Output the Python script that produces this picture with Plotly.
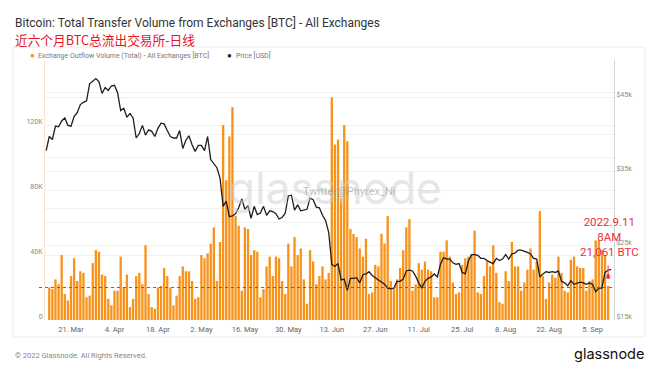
import plotly.graph_objects as go
import pandas as pd

# ---------------- data ----------------
bar_start, bar_end = "2022-03-14", "2022-09-10"
outflow_k = [
    20, 19, 25, 22, 40, 16, 12, 27, 38, 24,
    30, 29, 14, 15, 35, 43, 42, 28, 27, 13,
    9, 18, 18, 39, 20, 28, 8, 13, 27, 29,
    22, 46, 16, 8, 7, 20, 21, 32, 27, 20,
    9, 15, 27, 33, 30, 30, 24, 13, 14, 40,
    38, 41, 47, 57, 24, 48, 120, 86, 113, 131,
    64, 58, 18, 57, 56, 40, 43, 42, 14, 19,
    33, 39, 27, 39, 38, 24, 16, 47, 33, 51,
    40, 44, 25, 10, 43, 36, 22, 27, 33, 25,
    29, 137, 108, 111, 75, 120, 110, 56, 53, 51,
    44, 39, 50, 16, 17, 34, 33, 53, 47, 64,
    24, 20, 25, 32, 43, 57, 62, 18, 22, 35,
    31, 36, 31, 30, 14, 14, 42, 42, 49, 39,
    23, 16, 17, 34, 38, 39, 40, 55, 17, 16,
    27, 36, 33, 46, 29, 11, 10, 30, 24, 48,
    33, 33, 18, 23, 31, 44, 31, 36, 67, 27,
    13, 23, 28, 26, 39, 29, 18, 17, 37, 39,
    33, 32, 32, 18, 24, 25, 49, 49, 43, 40, 21,
]

price_start, price_end = "2022-03-13", "2022-09-11"
price_k = [
    # Mar 13-31
    37.8, 39.7, 39.3, 41.1, 41.0, 41.8, 42.2, 41.2, 41.1, 42.4, 42.9, 44.0, 44.3, 44.5, 46.8, 47.1, 47.5, 47.1, 45.5,
    # Apr
    46.3, 45.9, 46.5, 46.6, 45.6, 43.2, 43.5, 42.3, 42.8, 42.2, 39.5, 40.1, 41.2, 39.9, 40.6, 40.4, 39.7, 40.8, 41.5, 41.4,
    40.5, 39.7, 39.5, 39.5, 40.5, 38.1, 39.2, 39.8, 38.6, 37.7,
    # May
    38.5, 38.5, 37.8, 39.7, 36.6, 36.0, 35.5, 34.1, 30.3, 31.0, 28.9, 29.0, 29.3, 30.1, 31.3, 29.9, 30.4, 28.7, 30.3, 29.2,
    29.4, 30.3, 29.1, 29.7, 29.6, 29.3, 28.6, 28.8, 29.4, 31.7, 31.8,
    # Jun
    29.8, 30.5, 29.7, 29.8, 29.9, 31.4, 31.2, 30.2, 30.1, 29.1, 28.4, 26.8, 22.5, 22.2, 22.6, 20.4, 20.5, 19.0, 20.6, 20.6,
    20.7, 20.0, 21.1, 21.2, 21.5, 21.0, 20.7, 20.3, 20.1, 19.8,
    # Jul
    19.3, 19.2, 19.3, 20.2, 20.2, 20.5, 21.6, 21.7, 21.6, 20.9, 20.0, 19.3, 20.2, 20.6, 20.8, 21.2, 20.8, 22.5, 23.4, 23.2,
    23.2, 22.7, 22.5, 22.6, 21.4, 21.2, 22.9, 23.8, 23.8, 23.7, 23.3,
    # Aug
    23.3, 23.0, 22.8, 22.6, 23.3, 23.0, 23.2, 23.8, 23.2, 23.9, 24.0, 24.4, 24.4, 24.3, 24.1, 23.9, 23.3, 23.2, 20.8, 21.2,
    21.5, 21.4, 21.5, 21.4, 21.6, 20.2, 20.0, 19.6, 20.3, 19.8, 20.0,
    # Sep 1-11
    20.1, 20.0, 19.8, 20.0, 19.8, 18.8, 19.3, 19.3, 21.4, 21.7, 21.8,
]

x_tick_dates = ["2022-03-21", "2022-04-04", "2022-04-18", "2022-05-02", "2022-05-16", "2022-05-30",
                "2022-06-13", "2022-06-27", "2022-07-11", "2022-07-25", "2022-08-08", "2022-08-22", "2022-09-05"]
x_tick_labels = ["21. Mar", "4. Apr", "18. Apr", "2. May", "16. May", "30. May",
                 "13. Jun", "27. Jun", "11. Jul", "25. Jul", "8. Aug", "22. Aug", "5. Sep"]
left_ticks = [0, 40000, 80000, 120000]
left_labels = ["0", "40K", "80K", "120K"]
right_ticks = [15000, 25000, 35000, 45000]
right_labels = ["$15k", "$25k", "$35k", "$45k"]

marker_level = 20000      # dashed reference line (BTC)
point_value = 26500       # red dot
annot_date = "2022-09-10"

# ---------------- figure ----------------
bar_dates = pd.date_range(bar_start, bar_end, freq="D")
price_dates = pd.date_range(price_start, price_end, freq="D")
outflow = [v * 1000 for v in outflow_k]
price = [v * 1000 for v in price_k]

ORANGE = "#f7931a"
RED = "#e8323c"
FONT = "Roboto, 'Noto Sans', sans-serif"

fig = go.Figure()
fig.add_trace(go.Bar(x=bar_dates, y=outflow, marker=dict(color=ORANGE, line=dict(width=0)),
                     showlegend=False, yaxis="y"))
fig.add_trace(go.Scatter(x=price_dates, y=price, mode="lines", line=dict(color="#1e1e1e", width=1.3),
                         showlegend=False, yaxis="y2"))
fig.add_trace(go.Scatter(x=[annot_date], y=[point_value], mode="markers",
                         marker=dict(color=RED, size=4), showlegend=False, yaxis="y"))

# page body has an 8px margin: figure is 652x364 placed at (8, 8)
W, H = 652, 364
L, R, T, B = 37, 46, 52, 52
PL, PB, PW, PH = 45, 320, 569, 260   # plot area in reference-pixel coordinates


def px(xp):
    return (xp - PL) / PW


def py(yp):
    return (PB - yp) / PH


grid = "#f1f1f1"
fig.update_layout(
    width=W, height=H,
    margin=dict(l=L, r=R, t=T, b=B),
    paper_bgcolor="white", plot_bgcolor="white",
    bargap=0.25,
    font=dict(family=FONT, color="#888", size=7),
    xaxis=dict(type="date", range=["2022-03-12 15:00", "2022-09-11 21:30"],
               tickvals=x_tick_dates, ticktext=x_tick_labels, showgrid=False,
               tickfont=dict(size=7.5, color="#666"), ticks="", showline=False, zeroline=False,
               ticklabelstandoff=3),
    yaxis=dict(range=[0, 160000], tickvals=left_ticks, ticktext=left_labels,
               showgrid=True, gridcolor=grid, zeroline=False, showline=True,
               linecolor="#fce3cf", linewidth=1, ticks="", ticklabelshift=-3,
               tickfont=dict(size=7, color="#888"),
               minor=dict(tickvals=[20000, 60000, 100000, 140000, 160000], showgrid=True, gridcolor=grid)),
    yaxis2=dict(range=[15000, 50000], overlaying="y", side="right", tickvals=right_ticks,
                ticktext=right_labels, showgrid=True, gridcolor=grid, zeroline=False,
                showline=True, linecolor="#d6d6d6", linewidth=1, ticks="", ticklabelshift=-3,
                tickfont=dict(size=7, color="#888"),
                minor=dict(tickvals=[20000, 30000, 40000, 50000], showgrid=True, gridcolor=grid)),
)

shapes = [
    # card border
    dict(type="rect", xref="paper", yref="paper", x0=px(13), x1=px(645), y0=py(337), y1=py(47),
         line=dict(color="#ececec", width=1), layer="below"),
    # dashed reference line
    dict(type="line", xref="paper", yref="y", x0=px(39), x1=px(613), y0=marker_level, y1=marker_level,
         line=dict(color=RED, width=1, dash="3px,3px"), layer="above"),
]
fig.update_layout(shapes=shapes)

ann = []
# title
ann.append(dict(text="Bitcoin: Total Transfer Volume from Exchanges [BTC] - All Exchanges",
                x=px(13), y=py(23), xref="paper", yref="paper", xanchor="left", yanchor="middle",
                showarrow=False, font=dict(family=FONT, size=12, color="#333")))
ann.append(dict(text="近六个月BTC总流出交易所-日线",
                x=px(13), y=py(39), xref="paper", yref="paper", xanchor="left", yanchor="middle",
                showarrow=False, font=dict(family="'Noto Sans CJK SC', sans-serif", size=12.7, color="#e8141e")))
# legend
ann.append(dict(text="●", x=px(32), y=py(55), xref="paper", yref="paper", xanchor="center", yanchor="middle",
                showarrow=False, font=dict(size=8, color=ORANGE)))
ann.append(dict(text="Exchange Outflow Volume (Total) - All Exchanges [BTC]", x=px(36), y=py(55),
                xref="paper", yref="paper", xanchor="left", yanchor="middle", showarrow=False,
                font=dict(family=FONT, size=7, color="#777")))
ann.append(dict(text="●", x=px(229.5), y=py(55), xref="paper", yref="paper", xanchor="center", yanchor="middle",
                showarrow=False, font=dict(size=8, color="#1e1e1e")))
ann.append(dict(text="Price [USD]", x=px(234), y=py(55),
                xref="paper", yref="paper", xanchor="left", yanchor="middle", showarrow=False,
                font=dict(family=FONT, size=7, color="#777")))
# watermarks
ann.append(dict(text="glassnode", x=px(335), y=py(188), xref="paper", yref="paper",
                xanchor="center", yanchor="middle", showarrow=False,
                font=dict(family="Inter, sans-serif", size=44, color="rgba(205,205,205,0.5)")))
ann.append(dict(text="Twitter@Phyrex_Ni", x=px(349), y=py(191), xref="paper", yref="paper",
                xanchor="center", yanchor="middle", showarrow=False,
                font=dict(family=FONT, size=11, color="rgba(150,150,150,0.6)")))
# red annotation
ann.append(dict(text="2022.9.11<br>8AM<br>21,061 BTC", x=px(609), y=py(237), xref="paper", yref="paper",
                xanchor="center", yanchor="middle", align="center", showarrow=False,
                font=dict(family="Roboto, sans-serif", size=11.5, color=RED)))
ann.append(dict(x=annot_date, y=point_value, xref="x", yref="y", ax=0, ay=-13, text="",
                showarrow=True, arrowhead=2, arrowsize=0.6, arrowwidth=1, arrowcolor=RED))
# footer
ann.append(dict(text="© 2022 Glassnode. All Rights Reserved.", x=px(13), y=py(355), xref="paper", yref="paper",
                xanchor="left", yanchor="middle", showarrow=False, font=dict(family=FONT, size=7.5, color="#888")))
ann.append(dict(text="glassnode", x=px(646), y=py(354), xref="paper", yref="paper",
                xanchor="right", yanchor="middle", showarrow=False,
                font=dict(family="Inter, sans-serif", size=14.5, color="#111")))
fig.update_layout(annotations=ann)

fig.write_html("out.html")
